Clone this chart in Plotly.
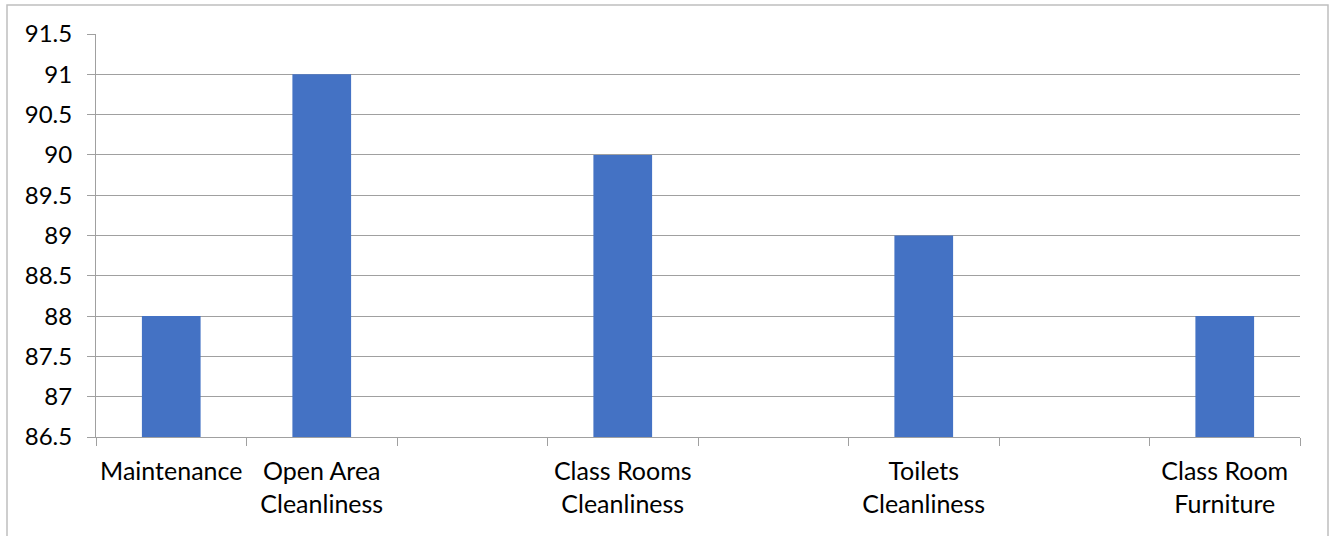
import plotly.graph_objects as go

categories = ["Maintenance", "Open Area<br>Cleanliness", " ", "Class Rooms<br>Cleanliness",
              "  ", "Toilets<br>Cleanliness", "   ", "Class Room<br>Furniture"]
values = [88, 91, None, 90, None, 89, None, 88]

W, H = 1336, 536
ml, mr, mt, mb = 96, 36, 34, 99
pw, ph = W - ml - mr, H - mt - mb

def px_to_paper_x(px):
    return (px - ml) / pw

def px_to_paper_y(py):
    return (H - mb - py) / ph

fig = go.Figure(go.Bar(x=categories, y=values, marker=dict(color="#4472C4", line=dict(width=0)),
                       hoverinfo="x+y"))

fig.update_layout(
    width=W, height=H,
    margin=dict(l=ml, r=mr, t=mt, b=mb, autoexpand=False),
    paper_bgcolor="white", plot_bgcolor="white",
    bargap=0.61,
    showlegend=False,
    font=dict(family="Lato, Open Sans, sans-serif", size=24, color="#000000"),
    xaxis=dict(type="category", tickson="boundaries", ticks="outside", ticklen=8,
               tickcolor="#a0a0a0", tickwidth=1, showline=True, linecolor="#a0a0a0",
               linewidth=1, showgrid=False, tickfont=dict(size=25), automargin=False,
               tickangle=0, ticklabelstandoff=12),
    yaxis=dict(range=[86.5, 91.5], dtick=0.5, tick0=86.5, ticks="outside", ticklen=8,
               tickcolor="#a0a0a0", showline=True, linecolor="#a0a0a0", linewidth=1,
               showgrid=True, gridcolor="#a0a0a0", gridwidth=1, zeroline=False,
               tickfont=dict(size=24), ticklabelstandoff=10, automargin=False),
    shapes=[dict(type="rect", xref="paper", yref="paper",
                 x0=px_to_paper_x(7), x1=px_to_paper_x(1328),
                 y0=px_to_paper_y(560), y1=px_to_paper_y(5),
                 line=dict(color="#bfbfbf", width=1.5), fillcolor="rgba(0,0,0,0)", layer="below")],
)

fig.write_html("out.html", config={"displayModeBar": False},
               post_script="document.body.style.margin='0';document.body.style.padding='0';document.body.style.overflow='hidden';")
